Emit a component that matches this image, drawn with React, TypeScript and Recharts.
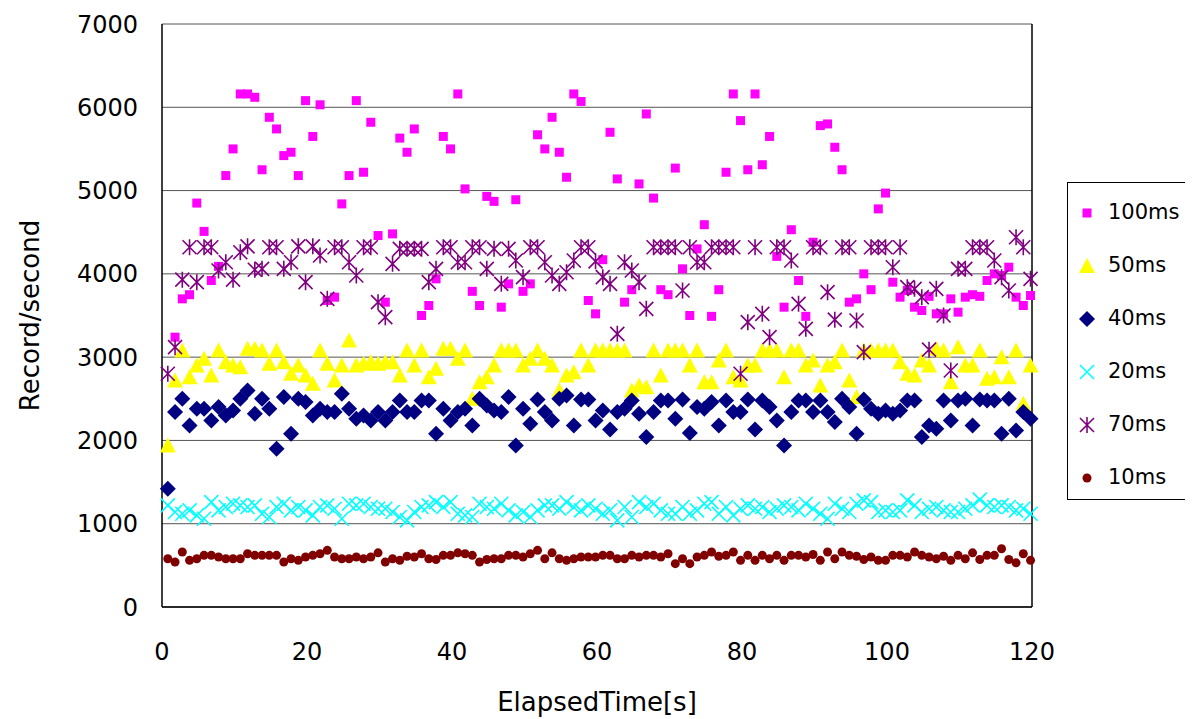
import { ScatterChart, Scatter, XAxis, YAxis, CartesianGrid, Legend, ReferenceLine } from 'recharts';

const FONT = '"DejaVu Sans", Verdana, sans-serif';

// elapsed time of each sample [s]
const ELAPSED = [
  0.8, 1.8, 2.8, 3.8, 4.8, 5.8, 6.8, 7.8, 8.8, 9.8, 10.8, 11.8, 12.8, 13.8, 14.8, 15.8, 16.8, 17.8, 18.8, 19.8,
  20.8, 21.8, 22.8, 23.8, 24.8, 25.8, 26.8, 27.8, 28.8, 29.8, 30.8, 31.8, 32.8, 33.8, 34.8, 35.8, 36.8, 37.8, 38.8, 39.8,
  40.8, 41.8, 42.8, 43.8, 44.8, 45.8, 46.8, 47.8, 48.8, 49.8, 50.8, 51.8, 52.8, 53.8, 54.8, 55.8, 56.8, 57.8, 58.8, 59.8,
  60.8, 61.8, 62.8, 63.8, 64.8, 65.8, 66.8, 67.8, 68.8, 69.8, 70.8, 71.8, 72.8, 73.8, 74.8, 75.8, 76.8, 77.8, 78.8, 79.8,
  80.8, 81.8, 82.8, 83.8, 84.8, 85.8, 86.8, 87.8, 88.8, 89.8, 90.8, 91.8, 92.8, 93.8, 94.8, 95.8, 96.8, 97.8, 98.8, 99.8,
  100.8, 101.8, 102.8, 103.8, 104.8, 105.8, 106.8, 107.8, 108.8, 109.8, 110.8, 111.8, 112.8, 113.8, 114.8, 115.8, 116.8, 117.8, 118.8, 119.8,
];

const R100 = [
  null, 3240, 3700, 3750, 4850, 4510, 3920, 4090, 5180, 5500, 6160, 6160, 6120, 5250, 5880, 5740, 5420, 5460, 5180, 6080,
  5650, 6030, 3680, 3720, 4840, 5180, 6080, 5220, 5820, 4460, 3660, 4480, 5630, 5460, 5740, 3500, 3620, 3940, 5650, 5500,
  6160, 5020, 3790, 3620, 4930, 4870, 3600, 3880, 4890, 3790, 3880, 5670, 5500, 5880, 5460, 5160, 6160, 6070, 3680, 3520,
  4170, 5700, 5140, 3660, 3810, 5080, 5920, 4910, 3810, 3750, 5270, 4060, 3500, 4300, 4590, 3490, 3810, 5220, 6160, 5840,
  5250, 6160, 5310, 5650, 4210, 3600, 4530, 3920, 3490, 4380, 5780, 5800, 5520, 5250, 3660, 3700, 4000, 3810, 4780, 4970,
  3900, 3720, 3800, 3600, 3560, 3730, 3520, 3520, 3700, 3540, 3720, 3750, 3730, 3920, 4000, 3980, 4080, 3720, 3620, 3740,
];

const R50 = [
  1940, 2720, 3080, 2760, 2900, 2980, 2780, 3080, 2940, 2900, 2880, 3100, 3100, 3080, 2920, 3080, 2940, 2800, 2900, 2780,
  2680, 3080, 2920, 2720, 2900, 3200, 2900, 2920, 2940, 2920, 2940, 2940, 2780, 3080, 2900, 3080, 2760, 2860, 3100, 3100,
  2980, 3080, 2500, 2700, 2760, 2900, 3080, 3080, 3080, 2900, 2980, 3080, 2980, 2900, 2600, 2780, 2820, 3080, 2900, 3080,
  3080, 3080, 3080, 3080, 2600, 2660, 2640, 3080, 2780, 3080, 3080, 3080, 2900, 3080, 2700, 2700, 2960, 3080, 2760, 2720,
  2900, 2900, 3080, 3080, 3080, 2760, 3080, 3080, 2900, 2960, 2660, 2900, 2940, 3080, 2720, 2520, 3080, 3080, 3080, 3080,
  3080, 2940, 2800, 2780, 2960, 2900, 3100, 3080, 2700, 3120, 2900, 2900, 3080, 2740, 2760, 3000, 2760, 3080, 2440, 2900,
];

const R40 = [
  1420, 2340, 2500, 2180, 2380, 2380, 2240, 2400, 2300, 2360, 2500, 2600, 2320, 2500, 2380, 1900, 2520, 2080, 2500, 2460,
  2300, 2380, 2340, 2340, 2560, 2380, 2260, 2300, 2240, 2340, 2240, 2340, 2480, 2340, 2340, 2480, 2480, 2080, 2380, 2240,
  2340, 2380, 2180, 2500, 2420, 2360, 2340, 2520, 1940, 2380, 2200, 2490, 2340, 2240, 2500, 2540, 2180, 2490, 2490, 2240,
  2360, 2130, 2340, 2380, 2480, 2320, 2040, 2340, 2480, 2480, 2260, 2490, 2090, 2400, 2380, 2460, 2180, 2480, 2340, 2340,
  2490, 2130, 2480, 2400, 2240, 1940, 2340, 2480, 2480, 2340, 2480, 2340, 2220, 2500, 2400, 2080, 2490, 2380, 2320, 2360,
  2320, 2360, 2480, 2480, 2040, 2180, 2140, 2480, 2240, 2480, 2500, 2180, 2490, 2480, 2480, 2080, 2500, 2120, 2340, 2260,
];

const R20 = [
  1220, 1140, 1120, 1160, 1100, 1060, 1260, 1160, 1200, 1240, 1220, 1200, 1220, 1120, 1080, 1200, 1240, 1160, 1200, 1160,
  1100, 1200, 1220, 1180, 1060, 1240, 1220, 1240, 1200, 1180, 1180, 1140, 1080, 1040, 1140, 1200, 1220, 1260, 1200, 1260,
  1120, 1100, 1080, 1240, 1200, 1180, 1240, 1160, 1100, 1140, 1080, 1160, 1220, 1220, 1180, 1260, 1200, 1160, 1220, 1180,
  1120, 1160, 1040, 1200, 1080, 1260, 1200, 1240, 1160, 1120, 1120, 1200, 1120, 1160, 1240, 1260, 1120, 1200, 1100, 1180,
  1220, 1180, 1200, 1140, 1180, 1220, 1200, 1160, 1240, 1180, 1120, 1060, 1240, 1180, 1140, 1240, 1280, 1260, 1140, 1160,
  1140, 1160, 1280, 1220, 1140, 1180, 1200, 1160, 1140, 1140, 1180, 1220, 1290, 1220, 1200, 1220, 1200, 1160, 1180, 1120,
];

const R70 = [
  2800, 3120, 3930, 4320, 3900, 4320, 4320, 4040, 4140, 3930, 4260, 4330, 4050, 4060, 4320, 4320, 4060, 4140, 4330, 3900,
  4330, 4220, 3700, 4320, 4320, 4140, 3980, 4320, 4320, 3660, 3480, 4120, 4300, 4300, 4300, 4300, 3900, 4060, 4320, 4320,
  4140, 4140, 4320, 4320, 4060, 4300, 3880, 4300, 4160, 3960, 4320, 4320, 4140, 3980, 3880, 4020, 4160, 4320, 4320, 4150,
  3960, 3880, 3280, 4140, 4040, 3900, 3580, 4320, 4320, 4320, 4320, 3800, 4320, 4140, 4140, 4320, 4320, 4320, 4320, 2800,
  3420, 4320, 3520, 3240, 4320, 4320, 4160, 3640, 3340, 4320, 4320, 3780, 3450, 4320, 4320, 3440, 3060, 4320, 4320, 4320,
  4080, 4320, 3840, 3820, 3720, 3090, 3820, 3500, 2840, 4060, 4060, 4320, 4320, 4320, 4160, 3960, 3800, 4440, 4320, 3940,
];

const R10 = [
  580, 540, 660, 560, 580, 620, 620, 600, 580, 580, 580, 640, 620, 620, 620, 620, 540, 580, 560, 600,
  620, 640, 680, 600, 580, 580, 600, 580, 600, 650, 540, 580, 560, 610, 600, 640, 580, 570, 620, 620,
  650, 640, 620, 540, 570, 580, 580, 620, 620, 600, 640, 680, 580, 650, 580, 560, 580, 600, 600, 600,
  620, 620, 580, 580, 620, 600, 620, 620, 600, 640, 520, 580, 520, 600, 620, 660, 610, 620, 660, 560,
  620, 560, 620, 580, 620, 560, 620, 620, 600, 630, 560, 660, 580, 660, 620, 610, 570, 600, 560, 560,
  620, 620, 600, 660, 620, 600, 580, 610, 560, 620, 580, 650, 570, 620, 620, 700, 570, 530, 640, 560,
];

const Y_TICKS = [0, 1000, 2000, 3000, 4000, 5000, 6000, 7000];
const X_TICKS = [0, 20, 40, 60, 80, 100, 120];

const toPoints = (values: (number | null)[]) =>
  ELAPSED.map((t, i) => ({ t, v: values[i] })).filter((p) => p.v !== null);

type Marker = (cx: number, cy: number) => JSX.Element;

const square: Marker = (cx, cy) => <rect x={cx - 4.5} y={cy - 4.5} width={9} height={9} fill="#ff00ff" />;
const triangle: Marker = (cx, cy) => (
  <polygon points={`${cx},${cy - 8} ${cx - 8},${cy + 7} ${cx + 8},${cy + 7}`} fill="#ffff00" />
);
const diamond: Marker = (cx, cy) => (
  <polygon points={`${cx},${cy - 8} ${cx + 8},${cy} ${cx},${cy + 8} ${cx - 8},${cy}`} fill="#000080" />
);
const cross: Marker = (cx, cy) => (
  <path d={`M${cx - 7},${cy - 7}L${cx + 7},${cy + 7}M${cx - 7},${cy + 7}L${cx + 7},${cy - 7}`} stroke="#00ffff" strokeWidth={1.6} />
);
const star: Marker = (cx, cy) => (
  <path
    d={`M${cx - 7},${cy - 7}L${cx + 7},${cy + 7}M${cx - 7},${cy + 7}L${cx + 7},${cy - 7}M${cx},${cy - 8}L${cx},${cy + 8}`}
    stroke="#800080"
    strokeWidth={1.6}
  />
);
const dot: Marker = (cx, cy) => <circle cx={cx} cy={cy} r={4.5} fill="#800000" />;

const SERIES = [
  { name: '100ms', values: R100, marker: square },
  { name: '50ms', values: R50, marker: triangle },
  { name: '40ms', values: R40, marker: diamond },
  { name: '20ms', values: R20, marker: cross },
  { name: '70ms', values: R70, marker: star },
  { name: '10ms', values: R10, marker: dot },
];

const renderLegend = () => (
  <div
    style={{
      width: 119,
      height: 318,
      boxSizing: 'border-box',
      border: '1px solid #000',
      background: '#fff',
      paddingTop: 3,
      fontFamily: FONT,
      fontSize: 21,
      color: '#000',
    }}
  >
    {SERIES.map((s) => (
      <div key={s.name} style={{ height: 53, display: 'flex', alignItems: 'center' }}>
        <svg width={40} height={20} style={{ flex: 'none' }}>
          {s.marker(19, 10)}
        </svg>
        <span style={{ lineHeight: 1 }}>{s.name}</span>
      </div>
    ))}
  </div>
);

const tickStyle = { fontFamily: FONT, fontSize: 24, fill: '#000' };
const titleStyle = { fontFamily: FONT, fontSize: 26, fill: '#000' };

export default function App() {
  return (
    <ScatterChart width={1185} height={711} margin={{ top: 16, right: 161, bottom: 0, left: 0 }}>
      <CartesianGrid vertical={false} stroke="#555" strokeWidth={1} />
      <XAxis
        type="number"
        dataKey="t"
        domain={[0, 120]}
        ticks={X_TICKS}
        height={112}
        axisLine={{ stroke: '#000', strokeWidth: 1.5 }}
        tickLine={false}
        tickMargin={30}
        tick={tickStyle}
        label={{ value: 'ElapsedTime[s]', position: 'insideBottom', offset: 8, style: titleStyle }}
      />
      <YAxis
        type="number"
        dataKey="v"
        domain={[0, 7000]}
        ticks={Y_TICKS}
        width={154}
        axisLine={{ stroke: '#000', strokeWidth: 1.5 }}
        tickLine={false}
        tickMargin={18}
        tick={tickStyle}
        label={{ value: 'Record/second', angle: -90, position: 'center', dx: -55, style: titleStyle }}
      />
      <ReferenceLine x={120} stroke="#000" strokeWidth={1.5} />
      <Legend
        layout="vertical"
        align="center"
        verticalAlign="middle"
        content={renderLegend}
        wrapperStyle={{ left: 1059, top: 174, width: 119, height: 318 }}
      />
      {SERIES.map((s) => (
        <Scatter
          key={s.name}
          name={s.name}
          data={toPoints(s.values)}
          isAnimationActive={false}
          shape={(p: any) => s.marker(p.cx, p.cy)}
        />
      ))}
    </ScatterChart>
  );
}
